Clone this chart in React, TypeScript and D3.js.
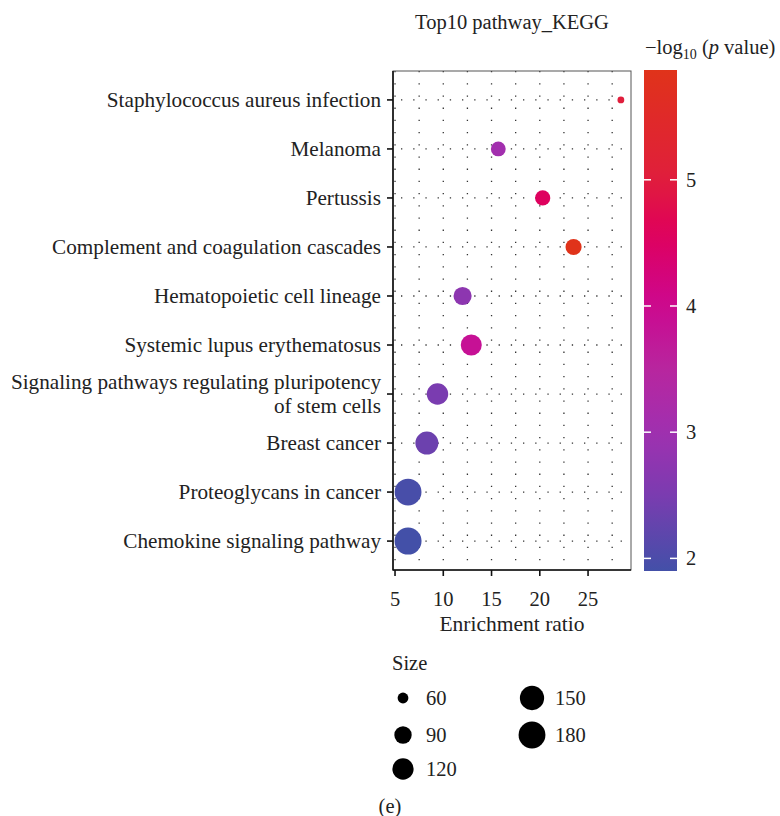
import React from "react";
import * as d3 from "d3";

const pathways = [
  "Staphylococcus aureus infection",
  "Melanoma",
  "Pertussis",
  "Complement and coagulation cascades",
  "Hematopoietic cell lineage",
  "Systemic lupus erythematosus",
  "Signaling pathways regulating pluripotency|of stem cells",
  "Breast cancer",
  "Proteoglycans in cancer",
  "Chemokine signaling pathway",
];
const enrichment = [28.4, 15.7, 20.3, 23.5, 12.0, 12.9, 9.4, 8.3, 6.35, 6.35];
const negLogP = [5.0, 3.05, 4.55, 5.87, 2.75, 3.85, 2.5, 2.35, 1.95, 1.9];
const geneCount = [55, 75, 77, 82, 95, 118, 122, 137, 180, 182];

const xTicks = [5, 10, 15, 20, 25];
const xGrid = [5, 7.5, 10, 12.5, 15, 17.5, 20, 22.5, 25, 27.5];
const colorTicks = [2, 3, 4, 5];
const sizeLegend = [60, 90, 120, 150, 180];

const paletteValues = [1.9, 2.5, 3.0, 3.5, 4.0, 4.6, 5.0, 5.87];
const paletteColors = ["#4350a8", "#7a3cb0", "#a030b0", "#b8269f", "#cc0890", "#e0005a", "#e01e3c", "#e0331a"];

const FONT = "'Liberation Serif', 'DejaVu Serif', serif";
const FS = 20.5;
const FSY = 21.2;

export default function App() {
  const W = 780, H = 816;
  const left = 393, right = 631, top = 71, bottom = 570;

  const x = d3.scaleLinear().domain([4.79, 29.45]).range([left, right]);
  const y = d3.scalePoint<string>().domain(pathways).range([top, bottom]).padding(0.59);

  const cMin = d3.min(negLogP)!, cMax = d3.max(negLogP)!;
  const color = d3.scaleLinear<string>().domain(paletteValues).range(paletteColors).interpolate(d3.interpolateRgb);

  const [sMin, sMax] = d3.extent(geneCount) as [number, number];
  const sNorm = d3.scaleLinear().domain([sMin, sMax]).range([0, 1]);
  const rLin = d3.scaleLinear().domain([0, 1]).range([3.4, 13.5]);
  const r = (v: number) => rLin(Math.sqrt(Math.max(0, sNorm(v))));

  const cbX = 644, cbW = 33, cbTop = 70, cbBottom = 571;
  const cy = d3.scaleLinear().domain([cMin, cMax]).range([cbBottom, cbTop]);
  const gradStops = d3.range(0, 21).map((i) => {
    const v = cMin + ((cMax - cMin) * i) / 20;
    return { off: (i / 20) * 100, col: color(v) };
  });

  const data = pathways.map((p, i) => ({ p, x: enrichment[i], c: negLogP[i], s: geneCount[i] }));

  const legendPos = [
    { cx: 403, cy: 698, lx: 426 },
    { cx: 403, cy: 735, lx: 426 },
    { cx: 403, cy: 769, lx: 426 },
    { cx: 532, cy: 698, lx: 555 },
    { cx: 532, cy: 735, lx: 555 },
  ];

  return (
    <svg width={W} height={H} style={{ position: "absolute", left: 0, top: 0, background: "#fff" }} fontFamily={FONT}>
      <defs>
        <linearGradient id="cbgrad" x1="0" y1="1" x2="0" y2="0">
          {gradStops.map((s, i) => (
            <stop key={i} offset={`${s.off}%`} stopColor={s.col} />
          ))}
        </linearGradient>
      </defs>
      <rect x={0} y={0} width={W} height={H} fill="#fff" />

      <text x={512} y={29} textAnchor="middle" fontSize={FS} fill="#222">Top10 pathway_KEGG</text>

      {xGrid.map((g) => (
        <line key={"gx" + g} x1={x(g)} x2={x(g)} y1={top} y2={bottom} stroke="#333" strokeWidth={1.3} strokeDasharray="1.3 10.9" />
      ))}
      {pathways.map((p) => (
        <line key={"gy" + p} x1={left} x2={right} y1={y(p)!} y2={y(p)!} stroke="#333" strokeWidth={1.3} strokeDasharray="1.3 10.9" strokeDashoffset={-8} />
      ))}

      <rect x={left} y={top} width={right - left} height={bottom - top} fill="none" stroke="#555" strokeWidth={1} />
      <line x1={left} x2={left} y1={top} y2={bottom + 0.5} stroke="#111" strokeWidth={1.6} />
      <line x1={left} x2={right} y1={bottom} y2={bottom} stroke="#111" strokeWidth={1.6} />

      {data.map((d) => (
        <circle key={d.p} cx={x(d.x)} cy={y(d.p)!} r={r(d.s)} fill={color(d.c)} />
      ))}

      {pathways.map((p) => {
        const yy = y(p)!;
        const lines = p.split("|");
        return (
          <g key={"yl" + p}>
            <line x1={left - 6} x2={left} y1={yy} y2={yy} stroke="#111" strokeWidth={1.6} />
            {lines.map((l, k) => (
              <text key={k} x={381} y={yy + 7 + (k - (lines.length - 1) / 2) * 24} textAnchor="end" fontSize={FSY} fill="#222">
                {l}
              </text>
            ))}
          </g>
        );
      })}

      {xTicks.map((t) => (
        <g key={"xt" + t}>
          <line x1={x(t)} x2={x(t)} y1={bottom} y2={bottom + 6} stroke="#111" strokeWidth={1.6} />
          <text x={x(t)} y={bottom + 36} textAnchor="middle" fontSize={FS} fill="#222">{t}</text>
        </g>
      ))}
      <text x={512} y={631} textAnchor="middle" fontSize={21.5} fill="#222">Enrichment ratio</text>

      <text x={645} y={54} fontSize={FS} fill="#222">
        <tspan>−log</tspan>
        <tspan fontSize={14} dy={5}>10</tspan>
        <tspan dy={-5}> (</tspan>
        <tspan fontStyle="italic">p</tspan>
        <tspan> value)</tspan>
      </text>
      <rect x={cbX} y={cbTop} width={cbW} height={cbBottom - cbTop} fill="url(#cbgrad)" />
      {colorTicks.map((t) => (
        <g key={"ct" + t}>
          <line x1={cbX} x2={cbX + 7} y1={cy(t)} y2={cy(t)} stroke="#fff" strokeWidth={1.5} />
          <line x1={cbX + cbW - 7} x2={cbX + cbW} y1={cy(t)} y2={cy(t)} stroke="#fff" strokeWidth={1.5} />
          <text x={686} y={cy(t) + 7} fontSize={FS} fill="#222">{t}</text>
        </g>
      ))}

      <text x={392} y={670} fontSize={FS} fill="#222">Size</text>
      {sizeLegend.map((s, i) => (
        <g key={"sl" + s}>
          <circle cx={legendPos[i].cx} cy={legendPos[i].cy} r={r(s)} fill="#000" />
          <text x={legendPos[i].lx} y={legendPos[i].cy + 7} fontSize={FS} fill="#222">{s}</text>
        </g>
      ))}

      <text x={390} y={813} textAnchor="middle" fontSize={FS} fill="#222">(e)</text>
    </svg>
  );
}
